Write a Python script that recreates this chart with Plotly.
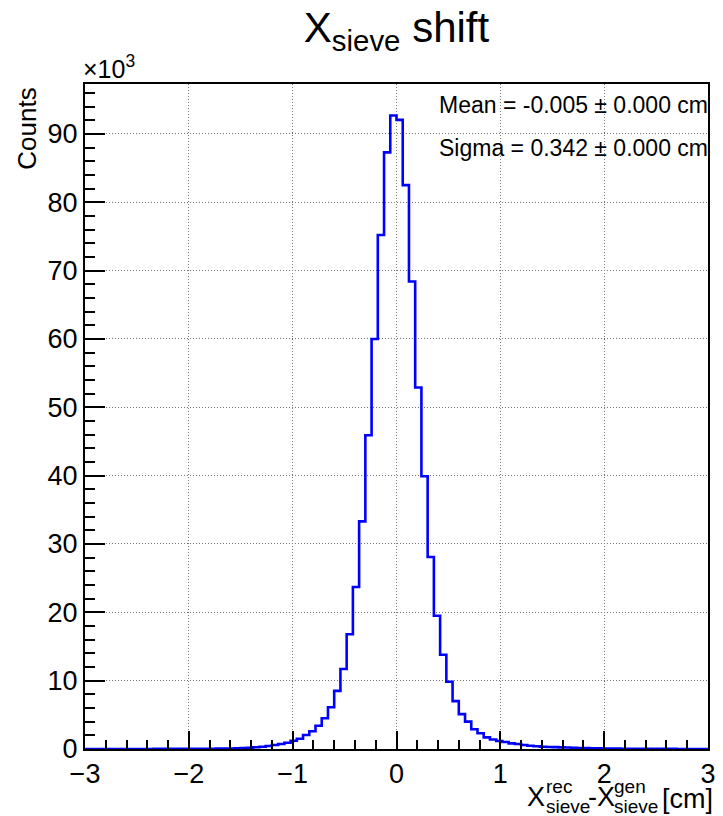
import plotly.graph_objects as go

# ---- data ----
bin_low = -3.0
bin_width = 0.06
counts_left = [3, 3, 4, 4, 5, 5, 6, 7, 8, 9,
               10, 12, 14, 16, 19, 22, 26, 30, 35, 40,
               45, 55, 65, 80, 100, 140, 190, 260, 340, 440,
               580, 730, 920, 1200, 1500, 2050, 2600, 3400, 4500, 6100,
               8500, 11700, 16800, 23700, 33300, 45900, 60000, 75200, 87300, 92700]
counts_right = [92050, 82500, 68400, 52900, 39900, 28100, 19500, 13800, 9850, 7000,
                5100, 4000, 2900, 2300, 1700, 1400, 1170, 1020, 830, 730,
                580, 470, 400, 340, 300, 270, 240, 210, 180, 150,
                125, 105, 88, 74, 62, 52, 44, 37, 31, 26,
                22, 19, 16, 14, 12, 10, 9, 8, 7, 6]
counts = counts_left + counts_right
title_text = "X<sub>sieve</sub> shift"
stat_lines = ["Mean = -0.005 \u00b1 0.000 cm", "Sigma = 0.342 \u00b1 0.000 cm"]
x_range = [-3, 3]
y_max_k = 97.3

# ---- build step outline ----
edges = [bin_low + bin_width * i for i in range(len(counts) + 1)]
yk = [c / 1000.0 for c in counts]
ys = yk + [yk[-1]]

fig = go.Figure()
fig.add_trace(go.Scatter(x=edges, y=ys, mode="lines",
                         line=dict(color="#0000ff", width=2.6, shape="hv"),
                         hoverinfo="skip", showlegend=False))

W, H = 723, 816
L, R, T, B = 85, 7, 84, 67
pw, ph = W - L - R, H - T - B

def px(xp):
    return (xp - L) / pw

def py(yp):
    return (H - B - yp) / ph

FONT = "Liberation Sans, Arial, Helvetica, sans-serif"

axis_common = dict(
    ticks="inside", tickcolor="black", tickwidth=2,
    showline=True, linecolor="black", linewidth=2, mirror=True,
    showgrid=True, gridcolor="#777777", griddash="1px,2px", gridwidth=1,
    zeroline=False, tickfont=dict(size=27, color="black", family=FONT),
)

fig.update_xaxes(range=x_range, tick0=0, dtick=1, ticklen=18,
                 minor=dict(dtick=0.2, ticklen=9, tickwidth=2, tickcolor="black",
                            ticks="inside", showgrid=False),
                 **axis_common)
fig.update_yaxes(range=[0, y_max_k], tick0=0, dtick=10, ticklen=20,
                 minor=dict(dtick=2, ticklen=10, tickwidth=2, tickcolor="black",
                            ticks="inside", showgrid=False),
                 **axis_common)

ann = []
# stats
ann.append(dict(text=stat_lines[0], x=px(718), y=py(105), xanchor="right", yanchor="middle",
                font=dict(size=23)))
ann.append(dict(text=stat_lines[1], x=px(718), y=py(148), xanchor="right", yanchor="middle",
                font=dict(size=23)))
# x10^3
ann.append(dict(text="\u00d710<sup>3</sup>", x=px(81), y=py(85), xanchor="left", yanchor="bottom",
                font=dict(size=25)))
# y title
ann.append(dict(text="Counts", x=px(26), y=py(86), xanchor="center", yanchor="top",
                textangle=-90, font=dict(size=26)))
# x title (stacked super/subscripts)
big, small = 27, 19
ann.append(dict(text="X", x=px(531), y=py(797), xanchor="left", yanchor="middle", font=dict(size=big)))
ann.append(dict(text="rec", x=px(550), y=py(786), xanchor="left", yanchor="middle", font=dict(size=small)))
ann.append(dict(text="sieve", x=px(550), y=py(806), xanchor="left", yanchor="middle", font=dict(size=small)))
ann.append(dict(text="-X", x=px(592), y=py(797), xanchor="left", yanchor="middle", font=dict(size=big)))
ann.append(dict(text="gen", x=px(619), y=py(786), xanchor="left", yanchor="middle", font=dict(size=small)))
ann.append(dict(text="sieve", x=px(619), y=py(806), xanchor="left", yanchor="middle", font=dict(size=small)))
ann.append(dict(text="[cm]", x=px(667), y=py(799), xanchor="left", yanchor="middle", font=dict(size=big)))

for a in ann:
    a.update(xref="paper", yref="paper", showarrow=False)
    a["font"].update(family=FONT, color="black")

fig.update_layout(
    width=W, height=H,
    margin=dict(l=L, r=R, t=T, b=B),
    paper_bgcolor="white", plot_bgcolor="white",
    font=dict(family=FONT, color="black"),
    title=dict(text=title_text, x=0.5, xref="paper", xanchor="center",
               y=1 - 27 / H, yref="container", yanchor="middle",
               font=dict(size=42, family=FONT, color="black")),
    annotations=ann,
)

fig.write_html("out.html")
